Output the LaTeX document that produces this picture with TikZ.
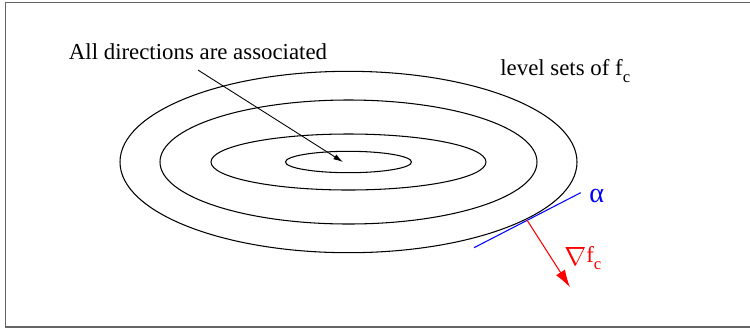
\documentclass[tikz,border=0pt]{standalone}
\usepackage{fontspec}
\setmainfont{Liberation Serif}
\usepackage{tikz}
\usetikzlibrary{arrows.meta, positioning, calc}
\definecolor{myframe}{RGB}{100,100,100}
\definecolor{myblue}{RGB}{0,0,255}
\definecolor{myred}{RGB}{255,0,0}
\newcommand{\subc}{\raisebox{-4.4pt}{\fontsize{9.5}{10}\selectfont c}}
\tikzset{
  level/.style={line width=0.6pt, color=black},
  label/.style={font=\fontsize{13}{15.6}\selectfont, inner sep=0pt},
  tangent/.style={line width=0.6pt, color=myblue},
  arrow/.style={-{Latex[length=5.5pt,width=3.2pt]}, line width=0.5pt, color=black},
  gradarrow/.style={-{Latex[length=10pt,width=6pt]}, line width=0.6pt, color=myred}
}
\begin{document}
\begin{tikzpicture}[x=0.02cm, y=-0.02cm]
  \clip (0,0) rectangle (750,329);
  \draw[myframe, line width=1pt] (5.5,2.5) rectangle (770,327.3);
  \coordinate (ctr) at (348.5,162);
  \draw[level] (ctr) ellipse [x radius=228.5, y radius=90.7];
  \draw[level] (ctr) ellipse [x radius=188.5, y radius=62];
  \draw[level] (ctr) ellipse [x radius=137.5, y radius=28];
  \draw[level] (ctr) ellipse [x radius=63, y radius=10.7];
  \node[label, inner ysep=5.5pt] (assoc) at (198,52) {All directions are associated};
  \node[label, anchor=base west] (lvl) at (500,75) {level sets of f\subc};
  \coordinate (tip) at (343,162);
  \draw[arrow] (assoc.south) -- (tip);
  \coordinate (tp) at (527,220);
  \coordinate (tl1) at (474,247.7);
  \coordinate (tl2) at (580.7,192.7);
  \coordinate (gtip) at (570,287.3);
  \draw[tangent] (tl1) -- (tl2);
  \draw[gradarrow] (tp) -- (gtip);
  \node[label, font=\fontsize{16}{18}\selectfont, anchor=base west, text=myblue] (alpha) at (589,202) {α};
  \node[label, anchor=base west, text=myred] (grad) at (564,262) {\raisebox{-2pt}{\scalebox{1.25}{$\nabla$}}f\subc};
\end{tikzpicture}
\end{document}
